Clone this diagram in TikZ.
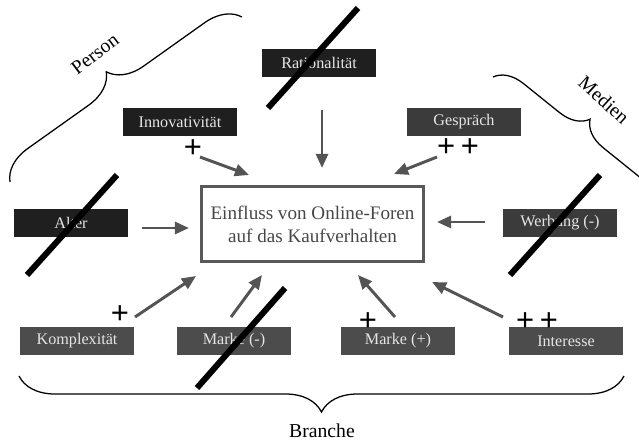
\documentclass[tikz,border=0pt]{standalone}
\usepackage{fontspec}
\setmainfont{Liberation Serif}
\newfontfamily\plusfont{Liberation Sans}
\usetikzlibrary{arrows.meta,decorations.pathreplacing}

\begin{document}
\begin{tikzpicture}[x=0.025cm,y=-0.025cm,
                faktor/.style={inner sep=0pt,minimum width=2.85cm,minimum height=0.68cm,text=white!90!black,font=\fontsize{11.5}{12}\selectfont},
                person/.style={faktor,fill=black!88},
                medien/.style={faktor,fill=black!77},
                branche/.style={faktor,fill=black!70},
                wirkung/.style={draw=black!67,line width=2.1pt,-{Triangle[length=10pt,width=8.5pt]}},
                streichung/.style={line width=4.3pt},
                plus/.style={inner sep=0pt,font=\plusfont\fontsize{22}{22}\selectfont},
                klammer/.style={decorate,decoration={brace,amplitude=#1},line width=0.9pt},
                titel/.style={inner sep=1pt,font=\fontsize{14}{14}\selectfont}]
                \useasboundingbox (0,0) rectangle (639,441);
                \node[draw=black!65,line width=2.2pt,minimum width=5.55cm,minimum height=1.88cm,align=center,text=black!72,font=\fontsize{13.6}{16.4}\selectfont] (einfluss) at (312.5,224) {Einfluss von Online-Foren\\auf das Kaufverhalten};
                \node[person] (ratio) at (319,63) {Rationalität};
                \node[person] (inno) at (180,122) {Innovativität};
                \node[person] (alter) at (71,223) {Alter};
                \node[medien] (gespraech) at (464,122) {Gespräch};
                \node[medien] (werbung) at (560,223) {Werbung (-)};
                \node[branche] (komplex) at (77,341) {Komplexität};
                \node[branche] (markeminus) at (234,341) {Marke (-)};
                \node[branche] (markeplus) at (398,341) {Marke (+)};
                \node[branche] (interesse) at (566,341) {Interesse};
                \node[plus] (pinno) at (193,149) {+};
                \node[plus] (pgespraech) at (458,148) {+\hspace{4pt}+};
                \node[plus] (pkomplex) at (120,315) {+};
                \node[plus] (pmarke) at (368,322) {+};
                \node[plus] (pinteresse) at (537,322) {+\hspace{4pt}+};
                \path (322,110) coordinate (ratio-von) (322,168) coordinate (ratio-nach)
                      (200,157) coordinate (inno-von) (249,175) coordinate (inno-nach)
                      (437,157) coordinate (gespraech-von) (394,174) coordinate (gespraech-nach)
                      (142,228) coordinate (alter-von) (189,228) coordinate (alter-nach)
                      (485,222) coordinate (werbung-von) (437,222) coordinate (werbung-nach)
                      (135,317) coordinate (komplex-von) (196,276) coordinate (komplex-nach)
                      (231,317) coordinate (markeminus-von) (262,275) coordinate (markeminus-nach)
                      (395,317) coordinate (markeplus-von) (358,275) coordinate (markeplus-nach)
                      (503,317) coordinate (interesse-von) (432,282) coordinate (interesse-nach);
                \foreach \n in {ratio,inno,gespraech,alter,werbung,komplex,markeminus,markeplus,interesse}
                    \draw[wirkung] (\n-von) -- (\n-nach);
                \draw[streichung] (268,108) -- (358,8);
                \draw[streichung] (27,275) -- (117,175);
                \draw[streichung] (510,275) -- (600,175);
                \draw[streichung] (197,388) -- (285,288);
                \draw[klammer=0.85cm] (10,182) -- (242,17);
                \node[titel,rotate=37] (person) at (95,54) {Person};
                \draw[klammer=0.7cm] (493,77) -- (652,205);
                \node[titel,rotate=-42] (medien) at (604,100) {Medien};
                \draw[klammer=0.9cm,decoration={mirror}] (19,376) -- (624,376);
                \node[titel] (branche) at (322,431) {Branche};
                \end{tikzpicture}
\end{document}
